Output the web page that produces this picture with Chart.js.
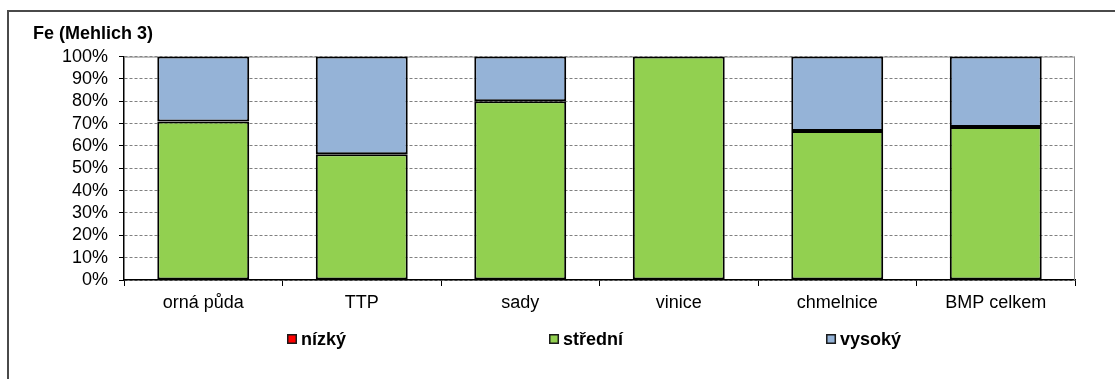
<!DOCTYPE html>
<html lang="cs">
<head>
<meta charset="utf-8">
<title>Fe (Mehlich 3)</title>
<script src="https://cdn.jsdelivr.net/npm/chart.js@4/dist/chart.umd.min.js"></script>
<style>
  html, body { margin: 0; padding: 0; background: #fff; overflow: hidden; }
  .frame {
    position: absolute; left: 7px; top: 10px;
    width: 1200px; height: 420px;
    border: 2px solid #4a4a4a; box-sizing: border-box;
  }
  .wrap { position: absolute; left: 0; top: 0; width: 1115px; height: 379px; }
</style>
</head>
<body>
<div class="frame"></div>
<div class="wrap"><canvas id="feChart"></canvas></div>
<script>
// kategorie pozemků
const categories = ['orná půda', 'TTP', 'sady', 'vinice', 'chmelnice', 'BMP celkem'];

// podíly tříd zásoby Fe v % (Mehlich 3)
const nizky   = [0, 0, 0, 0, 0, 0];
const stredni = [71, 56.3, 80, 100, 66.7, 68.5];
const vysoky  = [29, 43.7, 20, 0, 33.3, 31.5];

const yTicks = [0, 10, 20, 30, 40, 50, 60, 70, 80, 90, 100];

const FONT = '"Liberation Sans", Arial, Helvetica, sans-serif';
Chart.defaults.font.family = FONT;
Chart.defaults.font.size = 18;
Chart.defaults.color = '#000';

// šedý rámeček nahoře a vpravo kolem plochy grafu
const plotFrame = {
  id: 'plotFrame',
  beforeDatasetsDraw(chart) {
    const { ctx, chartArea: a } = chart;
    ctx.save();
    ctx.strokeStyle = '#8c8c8c';
    ctx.lineWidth = 1;
    ctx.beginPath();
    ctx.moveTo(a.left, a.top + 0.5);
    ctx.lineTo(a.right - 0.5, a.top + 0.5);
    ctx.lineTo(a.right - 0.5, a.bottom);
    ctx.stroke();
    ctx.restore();
  }
};

// legenda v jednom řádku s velkými mezerami
const legendRow = {
  id: 'legendRow',
  afterDraw(chart) {
    const ctx = chart.ctx;
    const box = 10, gapText = 4, gapItem = 203;
    ctx.save();
    ctx.font = 'bold 18px ' + FONT;
    const items = chart.data.datasets.map(ds => ({
      label: ds.label,
      color: ds.backgroundColor,
      w: box + gapText + ctx.measureText(ds.label).width
    }));
    const total = items.reduce((s, it) => s + it.w, 0) + gapItem * (items.length - 1);
    const a = chart.chartArea;
    let x = Math.round((a.left + a.right) / 2 - total / 2 - 5);
    const y = chart.scales.x.bottom + 27;
    items.forEach(it => {
      ctx.fillStyle = it.color;
      ctx.fillRect(x, y - box / 2, box, box);
      ctx.strokeStyle = '#1a1a1a';
      ctx.lineWidth = 1.5;
      ctx.strokeRect(x + 0.75, y - box / 2 + 0.75, box - 1.5, box - 1.5);
      ctx.fillStyle = '#000';
      ctx.textBaseline = 'middle';
      ctx.textAlign = 'left';
      ctx.fillText(it.label, x + box + gapText, y + 1);
      x += it.w + gapItem;
    });
    ctx.restore();
  }
};

const barStyle = {
  borderColor: '#000',
  borderWidth: 2,
  borderSkipped: false,
  categoryPercentage: 1,
  barPercentage: 0.58
};

new Chart(document.getElementById('feChart'), {
  type: 'bar',
  data: {
    labels: categories,
    datasets: [
      Object.assign({ label: 'nízký', data: nizky, backgroundColor: '#ff0000' }, barStyle),
      Object.assign({ label: 'střední', data: stredni, backgroundColor: '#92d050' }, barStyle),
      Object.assign({ label: 'vysoký', data: vysoky, backgroundColor: '#95b3d7' }, barStyle)
    ]
  },
  options: {
    responsive: true,
    maintainAspectRatio: false,
    animation: false,
    events: [],
    layout: { padding: { left: 33, top: 23, right: 40, bottom: 67 } },
    plugins: {
      legend: { display: false },
      tooltip: { enabled: false },
      title: {
        display: true,
        text: 'Fe (Mehlich 3)',
        align: 'start',
        color: '#000',
        font: { size: 18, weight: 'bold' },
        padding: { top: 0, bottom: 12 }
      }
    },
    scales: {
      x: {
        stacked: true,
        grid: {
          display: true,
          offset: true,
          drawOnChartArea: false,
          drawTicks: true,
          tickLength: 6,
          tickColor: '#000',
          tickWidth: 1
        },
        border: { display: true, color: '#000', width: 1.5 },
        ticks: { padding: 6, color: '#000', maxRotation: 0 },
        afterFit(scale) { scale.height = 32; }
      },
      y: {
        stacked: true,
        min: 0,
        max: 100,
        afterBuildTicks(scale) { scale.ticks = yTicks.map(v => ({ value: v })); },
        grid: {
          color: '#808080',
          lineWidth: 1,
          drawTicks: true,
          tickLength: 5,
          tickColor: '#000',
          tickWidth: 1,
          tickBorderDash: []
        },
        border: { display: true, color: '#000', width: 1.5, dash: [3, 2] },
        ticks: {
          padding: 11,
          color: '#000',
          autoSkip: false,
          callback: v => v + '%'
        },
        afterFit(scale) { scale.width = 91; }
      }
    }
  },
  plugins: [plotFrame, legendRow]
});
</script>
</body>
</html>
